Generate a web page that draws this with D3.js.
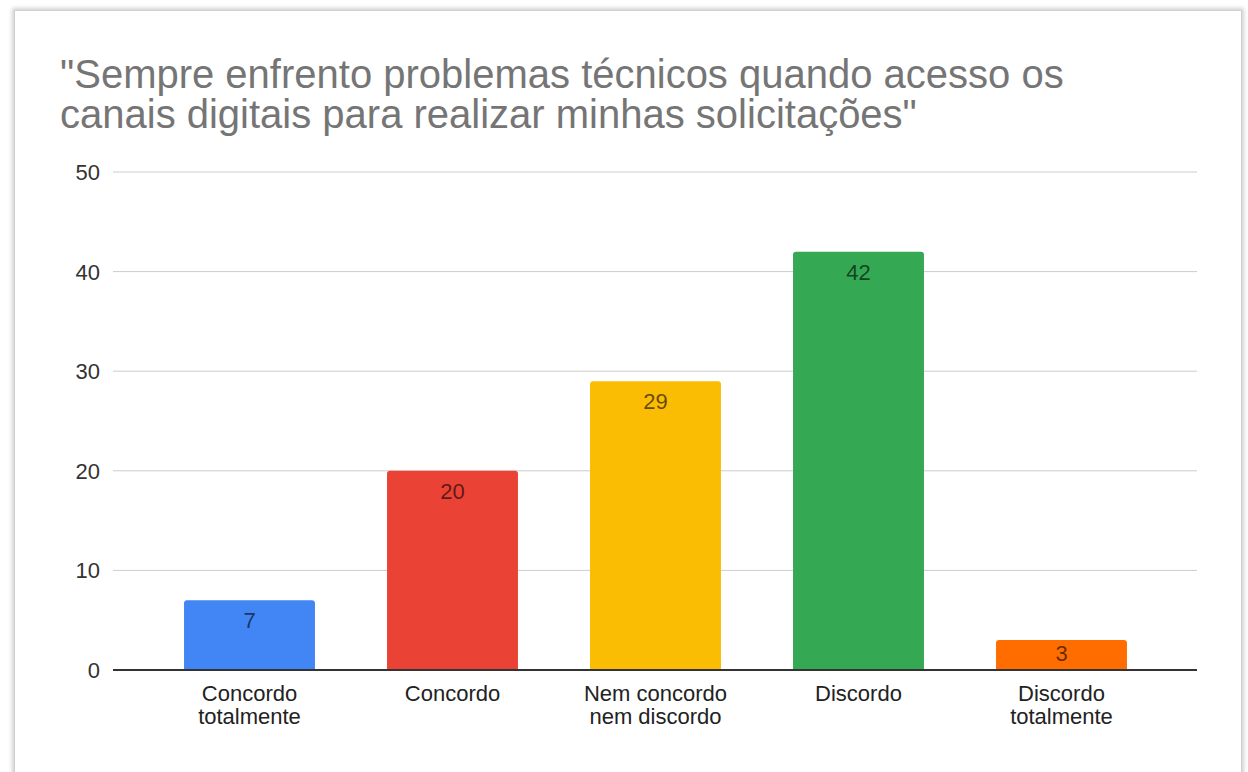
<!DOCTYPE html>
<html>
<head>
<meta charset="utf-8">
<script src="https://cdn.jsdelivr.net/npm/d3@7"></script>
<style>
  body { margin: 0; background: #fff; width: 1248px; height: 772px; overflow: hidden; position: relative; }
  .card { position: absolute; left: 14px; top: 10px; width: 1226px; height: 800px;
          border: 1px solid #d0d0d0; box-shadow: 0 0 4px 2px rgba(0,0,0,0.18); background: #fff; }
  svg { position: absolute; left: 0; top: 0; }
</style>
</head>
<body>
<div class="card"></div>
<script>
var categories = [["Concordo", "totalmente"], ["Concordo"], ["Nem concordo", "nem discordo"], ["Discordo"], ["Discordo", "totalmente"]];
var values = [7, 20, 29, 42, 3];
var colors = ["#4285f4", "#ea4335", "#fbbc04", "#34a853", "#ff6d01"];
var yTicks = [0, 10, 20, 30, 40, 50];
var titleLines = ["\"Sempre enfrento problemas técnicos quando acesso os", "canais digitais para realizar minhas solicitações\""];

var svg = d3.select("body").append("svg").attr("width", 1248).attr("height", 772);
var font = "Arial, 'Liberation Sans', sans-serif";

svg.selectAll("text.title").data(titleLines).enter().append("text")
  .attr("x", 60).attr("y", function (d, i) { return 88 + i * 40; })
  .style("font-family", font).style("font-size", "40px").style("fill", "#757575")
  .text(function (d) { return d; });

var x = d3.scaleBand().domain(d3.range(values.length)).range([148, 1163])
  .paddingInner(0.355).paddingOuter(0.1775);
var y = d3.scaleLinear().domain([0, 50]).range([670, 172]);

// grid lines
svg.selectAll("line.grid").data(yTicks.slice(1)).enter().append("line")
  .attr("x1", 113).attr("x2", 1197)
  .attr("y1", function (d) { return y(d); }).attr("y2", function (d) { return y(d); })
  .style("stroke", "#cccccc").style("stroke-width", 1);

svg.selectAll("text.ytick").data(yTicks).enter().append("text")
  .attr("x", 100).attr("y", function (d) { return y(d) + 8; })
  .attr("text-anchor", "end")
  .style("font-family", font).style("font-size", "22px").style("fill", "#333")
  .text(function (d) { return d; });

// bars
svg.selectAll("path.bar").data(values).enter().append("path")
  .attr("d", function (d, i) {
    var x0 = x(i), w = x.bandwidth(), y0 = y(d), r = 3, yb = y(0);
    return "M" + x0 + "," + yb + "V" + (y0 + r) + "Q" + x0 + "," + y0 + " " + (x0 + r) + "," + y0 +
      "H" + (x0 + w - r) + "Q" + (x0 + w) + "," + y0 + " " + (x0 + w) + "," + (y0 + r) + "V" + yb + "Z";
  })
  .style("fill", function (d, i) { return colors[i]; });

// value labels, kept inside the bar
svg.selectAll("text.val").data(values).enter().append("text")
  .attr("x", function (d, i) { return x(i) + x.bandwidth() / 2; })
  .attr("y", function (d) { return Math.min(y(d) + 28, y(0) - 9); })
  .attr("text-anchor", "middle")
  .style("font-family", font).style("font-size", "22px").style("fill", "rgba(0,0,0,0.62)")
  .text(function (d) { return d; });

// baseline
svg.append("line").attr("x1", 113).attr("x2", 1197).attr("y1", y(0)).attr("y2", y(0))
  .style("stroke", "#333").style("stroke-width", 2);

// category labels
var cat = svg.selectAll("text.cat").data(categories).enter().append("text")
  .attr("text-anchor", "middle")
  .style("font-family", font).style("font-size", "22px").style("fill", "#222");
cat.selectAll("tspan").data(function (d, i) { return d.map(function (t) { return { t: t, i: i }; }); })
  .enter().append("tspan")
  .attr("x", function (d) { return x(d.i) + x.bandwidth() / 2; })
  .attr("y", function (d, j) { return 701 + j * 23; })
  .text(function (d) { return d.t; });
</script>
</body>
</html>
